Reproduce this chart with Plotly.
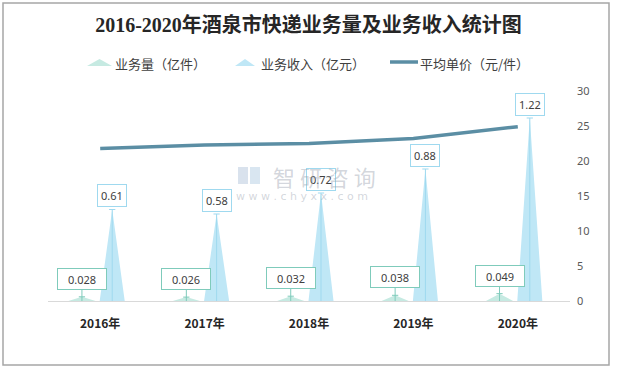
import plotly.graph_objects as go

years = ["2016年", "2017年", "2018年", "2019年", "2020年"]
volume = [0.028, 0.026, 0.032, 0.038, 0.049]        # 业务量（亿件）
revenue = [0.61, 0.58, 0.72, 0.88, 1.22]           # 业务收入（亿元）
price = [21.8, 22.3, 22.5, 23.2, 24.9]             # 平均单价（元/件）
vol_labels = ["0.028", "0.026", "0.032", "0.038", "0.049"]
rev_labels = ["0.61", "0.58", "0.72", "0.88", "1.22"]

W, H = 617, 369
L, R, T, B = 48, 47, 91, 68
PW, PH = W - L - R, H - T - B

def px(x):
    return (x - L) / PW

def py(y):
    return (H - B - y) / PH

VOL_OFF, REV_OFF = -0.175, 0.115
VOL_HW, REV_HW = 0.13, 0.12
VOL_FILL, REV_FILL = "#c6eae2", "#bfe7f6"
VOL_LINE, REV_LINE = "#7fcbbb", "#9fd9ef"
PRICE_COLOR = "#5b8ea4"

fig = go.Figure()

def add_spikes(vals, off, hw, fill, linec):
    tx, ty, lx, ly = [], [], [], []
    cap = 0.03
    for i, v in enumerate(vals):
        c = i + off
        tx += [c - hw, c, c + hw, c - hw, None]
        ty += [0, v, 0, 0, None]
        lx += [c, c, None, c - cap, c + cap, None]
        ly += [0, v, None, v, v, None]
    fig.add_trace(go.Scatter(x=tx, y=ty, fill="toself", fillcolor=fill, mode="lines",
                             line=dict(width=0, color=fill), hoverinfo="skip",
                             showlegend=False, yaxis="y"))
    fig.add_trace(go.Scatter(x=lx, y=ly, mode="lines", line=dict(width=1, color=linec),
                             hoverinfo="skip", showlegend=False, yaxis="y"))

add_spikes(volume, VOL_OFF, VOL_HW, VOL_FILL, VOL_LINE)
add_spikes(revenue, REV_OFF, REV_HW, REV_FILL, REV_LINE)

fig.add_trace(go.Scatter(x=list(range(len(years))), y=price, mode="lines",
                         line=dict(color=PRICE_COLOR, width=3.5), yaxis="y2",
                         showlegend=False, hoverinfo="skip"))

annotations = []
for i, v in enumerate(revenue):
    annotations.append(dict(x=i + REV_OFF, y=v, xref="x", yref="y", text=rev_labels[i],
                            showarrow=False, yshift=14, bgcolor="white",
                            bordercolor=REV_LINE, borderwidth=1, borderpad=3,
                            font=dict(size=11, color="#404040", family="Noto Sans")))
for i, v in enumerate(volume):
    annotations.append(dict(x=i + VOL_OFF, y=v, xref="x", yref="y", text=vol_labels[i],
                            showarrow=True, arrowhead=0, arrowwidth=1, arrowcolor=VOL_LINE,
                            ax=0, ay=-18, bgcolor="white", bordercolor=VOL_LINE,
                            borderwidth=1, borderpad=2, width=44, height=16,
                            font=dict(size=11, color="#404040", family="Noto Sans")))

# watermark (drawn over the labels as in the reference)
wm_color = "rgba(150,158,172,0.42)"
annotations.append(dict(xref="paper", yref="paper", x=px(324), y=py(176), xanchor="center",
                        yanchor="middle", text="智 研 咨 询", showarrow=False,
                        font=dict(size=22, color=wm_color, family="Noto Sans CJK SC")))
annotations.append(dict(xref="paper", yref="paper", x=px(302), y=py(196), xanchor="center",
                        yanchor="middle", text="w w w . c h y x x . c o m", showarrow=False,
                        font=dict(size=11, color=wm_color, family="DejaVu Sans")))

# legend
leg_font = dict(size=13, color="#404040", family="Noto Sans CJK SC")
for xpos, txt in [(113, "业务量（亿件）"), (259, "业务收入（亿元）"), (418, "平均单价（元/件）")]:
    annotations.append(dict(xref="paper", yref="paper", x=px(xpos), y=py(63), xanchor="left",
                            yanchor="middle", text=txt, showarrow=False, font=leg_font))

def tri(x0, x1, ybase, ytop, color):
    return dict(type="path", xref="paper", yref="paper",
                path=f"M {px(x0)},{py(ybase)} L {(px(x0)+px(x1))/2},{py(ytop)} L {px(x1)},{py(ybase)} Z",
                fillcolor=color, line=dict(width=0))

shapes = [
    tri(87, 112, 66, 59, VOL_FILL),
    tri(235, 255, 66, 59, REV_FILL),
    dict(type="line", xref="paper", yref="paper", x0=px(390), x1=px(418), y0=py(62), y1=py(62),
         line=dict(color=PRICE_COLOR, width=3.5)),
    # watermark logo blocks
    dict(type="rect", xref="paper", yref="paper", x0=px(238), x1=px(248), y0=py(184), y1=py(167),
         fillcolor="rgba(170,190,215,0.45)", line=dict(width=0)),
    dict(type="rect", xref="paper", yref="paper", x0=px(250), x1=px(260), y0=py(184), y1=py(167),
         fillcolor="rgba(170,200,225,0.45)", line=dict(width=0)),
    dict(type="rect", xref="paper", yref="paper", x0=px(3), x1=px(609), y0=py(365), y1=py(3),
         line=dict(color="#a6a6a6", width=1.5)),
]

fig.update_layout(
    width=W, height=H,
    margin=dict(l=L, r=R, t=T, b=B),
    paper_bgcolor="white", plot_bgcolor="white",
    title=dict(text="<b>2016-2020年酒泉市快递业务量及业务收入统计图</b>", x=0.5, xref="container",
               y=1 - 25 / H, yref="container", yanchor="middle", xanchor="center",
               font=dict(size=20, color="#262626", family="Liberation Serif, Noto Sans CJK SC")),
    xaxis=dict(range=[-0.5, 4.5], tickvals=list(range(len(years))),
               ticktext=[f"<b>{y}</b>" for y in years], showgrid=False, zeroline=False,
               showline=True, linecolor="#d9d9d9", linewidth=1, ticks="",
               ticklabelstandoff=12,
               tickfont=dict(size=12, color="#262626", family="Noto Sans CJK SC")),
    yaxis=dict(range=[0, 1.4], visible=False, showgrid=False, zeroline=False),
    yaxis2=dict(range=[0, 30], dtick=5, overlaying="y", side="right", showgrid=False,
                zeroline=False, showline=False, ticks="", ticklabelstandoff=6,
                tickfont=dict(size=11, color="#595959", family="Noto Sans")),
    showlegend=False,
    annotations=annotations,
    shapes=shapes,
)

fig.write_html("out.html", config={"displayModeBar": False},
               post_script="document.body.style.margin='0';document.body.style.overflow='hidden';")
